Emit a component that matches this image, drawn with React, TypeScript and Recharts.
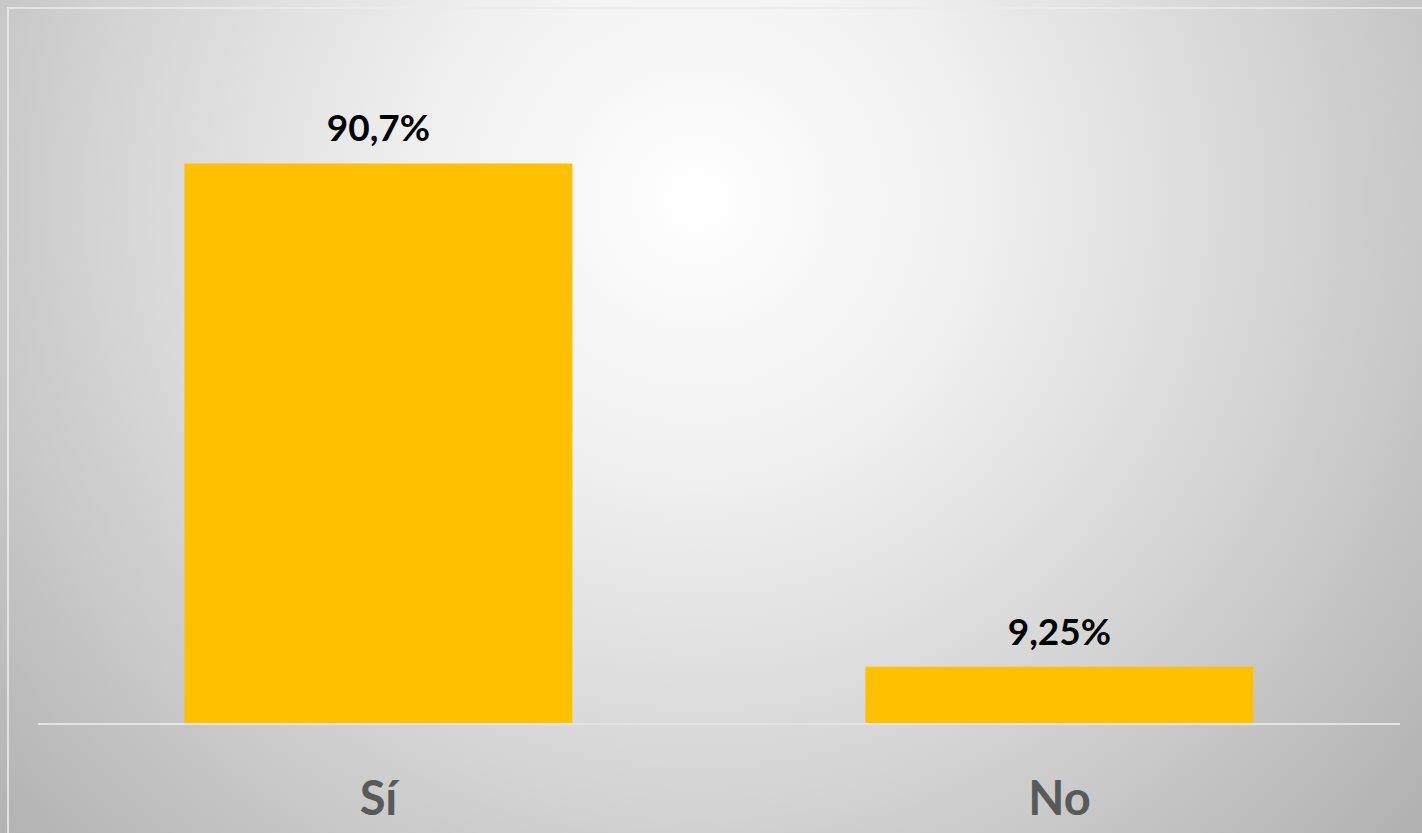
import { Bar, BarChart, LabelList, XAxis, YAxis } from 'recharts';

const categories = ['Sí', 'No'];
const percentages = [90.7, 9.25];
const yDomain = [0, 100];

const data = categories.map((name, i) => ({ name, value: percentages[i] }));

const formatPct = (v: number) => `${String(v).replace('.', ',')}%`;

function CategoryTick({ x, y, payload }: any) {
  return (
    <text
      x={x}
      y={y + 83}
      textAnchor="middle"
      fill="#595959"
      fontSize={47}
      fontWeight="bold"
      fontFamily="Lato, 'Open Sans', sans-serif"
    >
      {payload.value}
    </text>
  );
}

export default function App() {
  return (
    <div
      style={{
        position: 'absolute',
        left: 0,
        top: 0,
        width: 1422,
        height: 833,
        overflow: 'hidden',
        background:
          'radial-gradient(circle farthest-corner at 49% 24%, #ffffff 0%, #efefef 30%, #d4d4d4 62%, #b0b0b0 100%)',
      }}
    >
      <div
        style={{
          position: 'absolute',
          left: 7,
          top: 7,
          width: 1440,
          height: 850,
          border: '2px solid rgba(235,235,235,0.8)',
        }}
      />
      <div style={{ position: 'absolute', left: 0, top: 0 }}>
        <BarChart
          width={1422}
          height={833}
          data={data}
          margin={{ top: 106, right: 22, bottom: 29, left: 38 }}
          barCategoryGap="21.5%"
        >
          <XAxis
            dataKey="name"
            height={80}
            tickLine={false}
            axisLine={{ stroke: '#e4e4e4', strokeWidth: 2 }}
            tick={<CategoryTick />}
          />
          <YAxis hide domain={yDomain} />
          <Bar dataKey="value" fill="#FFC000" isAnimationActive={false}>
            <LabelList
              dataKey="value"
              position="top"
              offset={22}
              formatter={(v: any) => formatPct(v)}
              fill="#000000"
              fontSize={37}
              fontWeight="bold"
              fontFamily="Lato, 'Open Sans', sans-serif"
            />
          </Bar>
        </BarChart>
      </div>
    </div>
  );
}
